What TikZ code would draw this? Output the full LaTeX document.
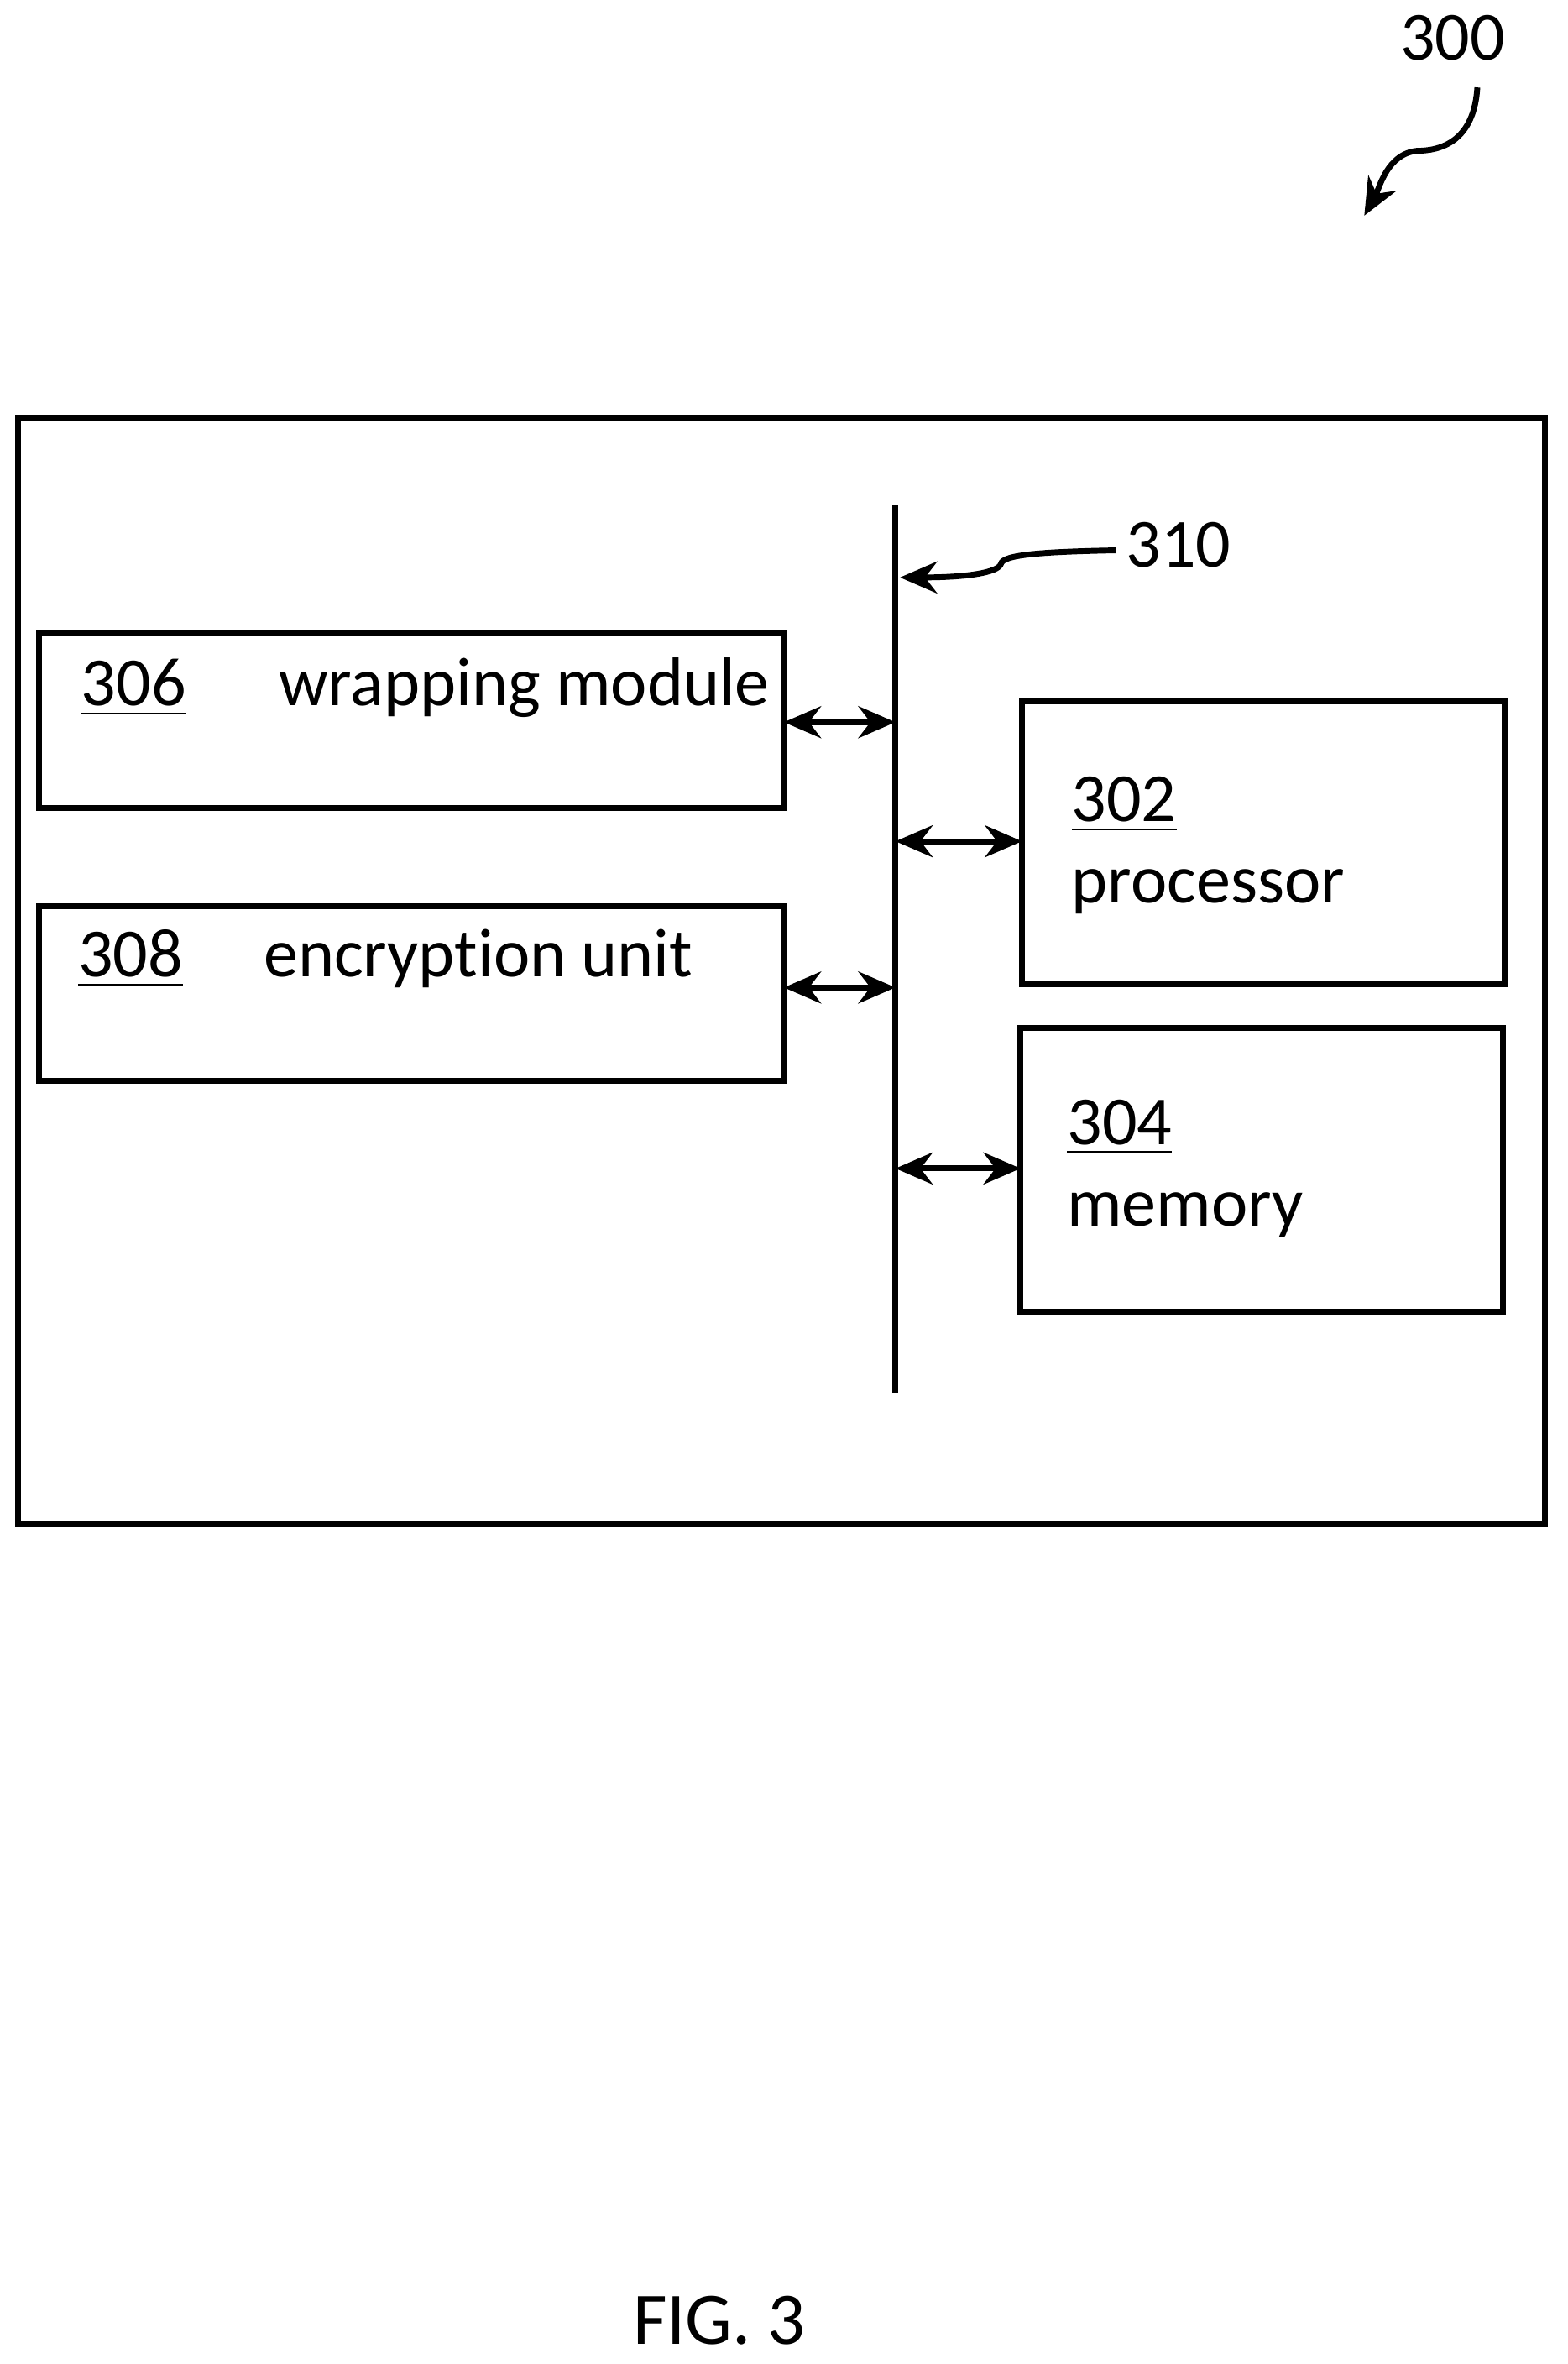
\documentclass[tikz,border=0pt]{standalone}
\usepackage{fontspec}
\setmainfont[Ligatures=NoCommon]{Carlito}
\usetikzlibrary{arrows.meta}
\begin{document}
\begin{tikzpicture}[x=0.1mm,y=-0.1mm,line width=1.1pt,
  box/.style={draw,line width=1.1pt},
  lbl/.style={anchor=base west,inner sep=0pt,font=\fontsize{13pt}{15pt}\selectfont},
  bi/.style={{Stealth[length=7pt,width=6pt]}-{Stealth[length=7pt,width=6pt]},line width=1.1pt},
  lead/.style={-{Stealth[length=7pt,width=6pt]}}]
\useasboundingbox (0,0) rectangle (1040,1568);
\draw[box] (12,277) rectangle (1025,1011);
\coordinate (bt) at (594,335); \coordinate (bb) at (594,924);
\draw (bt) -- (bb);
\draw[box] (26,420) rectangle (520,536);
\draw[box] (26,601) rectangle (520,717);
\draw[box] (678,465) rectangle (998,653);
\draw[box] (677,682) rectangle (997,870);
\node[lbl] (n306) at (52,468) {\underline{306}};
\node[lbl] (t306) at (183,468) {wrapping module};
\node[lbl] (n308) at (50,648) {\underline{308}};
\node[lbl] (t308) at (173,648) {encrypt\kern0pt ion unit};
\node[lbl] (n302) at (709,545) {\underline{302}};
\node[lbl] (t302) at (709,599) {processor};
\node[lbl] (n304) at (706,759) {\underline{304}};
\node[lbl] (t304) at (706,813) {memory};
\coordinate (a1) at (520,479); \coordinate (a1b) at (594,479);
\coordinate (a2) at (520,655); \coordinate (a2b) at (594,655);
\coordinate (a3) at (594,558); \coordinate (a3b) at (678,558);
\coordinate (a4) at (594,775); \coordinate (a4b) at (677,775);
\draw[bi] (a1) -- (a1b);
\draw[bi] (a2) -- (a2b);
\draw[bi] (a3) -- (a3b);
\draw[bi] (a4) -- (a4b);
\node[lbl] (n310) at (745,376) {310};
\coordinate (c310) at (740,365); \coordinate (e310) at (597,383);
\draw[lead] (c310) .. controls (690,366) and (665,368) .. (664,374) .. controls (662,380) and (640,383) .. (e310);
\node[lbl] (n300) at (927,40) {300};
\coordinate (c300) at (980,58); \coordinate (e300) at (905,143);
\draw[lead] (c300) .. controls (978,90) and (960,100) .. (940,100) .. controls (920,102) and (915,125) .. (e300);
\node[lbl,font=\fontsize{14pt}{16pt}\selectfont] (fig) at (418,1555) {FIG. 3};
\end{tikzpicture}
\end{document}
